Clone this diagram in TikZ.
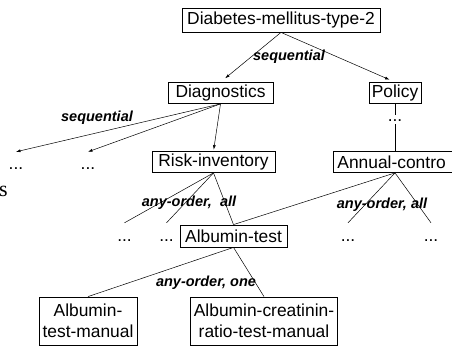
\documentclass[tikz,border=0pt]{standalone}
\usepackage{fontspec}
\setmainfont{Liberation Sans}
\newfontfamily\serifs{Liberation Serif}
\usetikzlibrary{arrows.meta,calc}
\begin{document}
\begin{tikzpicture}[x=1pt,y=1pt,
 box/.style={draw,line width=0.8pt,inner sep=0pt,minimum height=21pt,font=\fontsize{17.4}{21}\selectfont,align=center},
 lbl/.style={font=\fontsize{14.5}{16}\selectfont\bfseries\itshape,inner sep=0pt},
 dts/.style={font=\fontsize{17.4}{19}\selectfont,inner sep=0pt,anchor=base,text height=18pt,text depth=0pt},
 pdts/.style={font=\fontsize{17.4}{19}\selectfont,fill=white,inner xsep=0.5pt,inner ysep=3pt,text height=3pt,text depth=0pt},
 con/.style={line width=0.5pt},
 arr/.style={con,-{Latex[length=4.5pt,width=3pt]}}]
\useasboundingbox (0,0) rectangle (452,-347);
\clip (0,0) rectangle (452,-347);
% boxes
\node[box,minimum width=198pt,minimum height=24pt] (diab) at (281,-20) {Diabetes-mellitus-type-2};
\node[box,minimum width=105pt] (diag) at (220.5,-93) {Diagnostics};
\node[box,minimum width=52pt] (pol) at (395,-93) {Policy};
\node[box,minimum width=123pt] (risk) at (213.5,-162) {Risk-inventory};
\node[box,minimum width=140pt,text width=132pt,align=left,anchor=west,inner xsep=4pt] (ann) at (333,-162) {Annual-contro};
\node[box,minimum width=107pt,minimum height=22pt] (at) at (233.5,-236) {Albumin-test};
\node[box,minimum width=98pt,minimum height=48pt] (atm) at (88,-321) {Albumin-\\test-manual};
\node[box,minimum width=147pt,minimum height=48pt] (acr) at (264,-321) {Albumin-creatinin-\\ratio-test-manual};
% dots
\node[dts] (d1) at (16,-170) {...};
\node[dts] (d2) at (88,-170) {...};
\node[dts] (d3) at (124.5,-241) {...};
\node[dts] (d4) at (166.5,-241) {...};
\node[dts] (d5) at (348,-241) {...};
\node[dts] (d6) at (431,-241) {...};
% labels
\node[lbl] (s1) at (289,-57) {sequential};
\node[lbl] (s2) at (97,-118) {sequential};
\node[lbl] (l1) at (189,-203) {any-order,~~all};
\node[lbl] (l2) at (382,-205) {any-order, all};
\node[lbl] (l3) at (206,-283) {any-order, one};
% connectors
\draw[arr,shorten >=6pt] (diab.south) -- (diag.north);
\draw[arr,shorten >=6pt] (diab.south) -- (pol.north);
\draw[arr] (diag.south) -- (d1.north);
\draw[arr] (diag.south) -- (d2.north);
\draw[arr,shorten >=1.5pt] (diag.south) -- (risk.north);
\draw[con] (pol.south) -- (pol.south |- ann.north);
\node[pdts] (pd) at (395,-120) {...};
\draw[con] (risk.south) -- (d3.north);
\draw[con] (risk.south) -- (d4.north);
\draw[con] (risk.south) -- (at.north);
\draw[con] (pol.south |- ann.south) -- (at.north);
\draw[con] (pol.south |- ann.south) -- (d5.north);
\draw[con] (pol.south |- ann.south) -- (d6.north);
\draw[con] (at.south) -- (atm.north);
\draw[con] (at.south) -- (acr.north);
% fragment
\node[font=\serifs\fontsize{22}{24}\selectfont,inner sep=0pt,anchor=base west] (frag) at (-1,-197) {s};
\end{tikzpicture}
\end{document}
